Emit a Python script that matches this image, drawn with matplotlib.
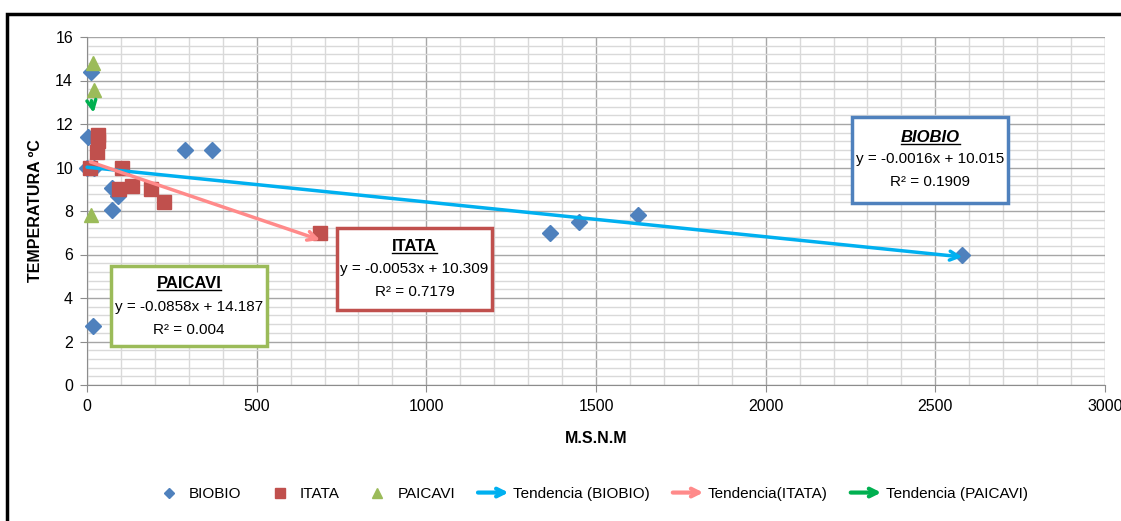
import numpy as np
import matplotlib
matplotlib.use('Agg')
import matplotlib.pyplot as plt
import matplotlib.ticker as ticker
from matplotlib.patches import Rectangle, FancyArrowPatch
from matplotlib.lines import Line2D
from matplotlib.legend_handler import HandlerBase

plt.rcParams['font.family'] = ['Liberation Sans', 'DejaVu Sans']

# data
biobio_x = [12, 3, 0, 20, 75, 90, 74, 289, 368, 1365, 1450, 1625, 2580, 18]
biobio_y = [14.4, 11.4, 10.0, 10.0, 9.05, 8.7, 8.05, 10.8, 10.8, 7.0, 7.5, 7.8, 6.0, 2.7]
itata_x = [32, 32, 30, 10, 103, 95, 133, 189, 227, 687]
itata_y = [11.5, 11.2, 10.7, 10.0, 10.0, 9.0, 9.15, 9.0, 8.4, 7.0]
paicavi_x = [17, 19.5, 13]
paicavi_y = [14.8, 13.55, 7.8]

names = ['BIOBIO', 'ITATA', 'PAICAVI']
slopes = [-0.0016, -0.0053, -0.0858]
intercepts = [10.015, 10.309, 14.187]
r2 = ['0.1909', '0.7179', '0.004']
eq_txt = ['y = -0.0016x + 10.015', 'y = -0.0053x + 10.309', 'y = -0.0858x + 14.187']
trend_labels = ['Tendencia (BIOBIO)', 'Tendencia(ITATA)', 'Tendencia (PAICAVI)']

mark_cols = ['#4F81BD', '#C0504D', '#9BBB59']
trend_cols = ['#00B0F0', '#FF8A8A', '#00B050']

fig = plt.figure(figsize=(11.21, 5.21), dpi=100)
ax = fig.add_axes([87/1121, 1-385/521, 1018/1121, 348/521])

ax.set_xlim(0, 3000)
ax.set_ylim(0, 16)
ax.xaxis.set_major_locator(ticker.MultipleLocator(500))
ax.xaxis.set_minor_locator(ticker.MultipleLocator(100))
ax.yaxis.set_major_locator(ticker.MultipleLocator(2))
ax.yaxis.set_minor_locator(ticker.MultipleLocator(0.4))
ax.grid(which='major', color='#a6a6a6', lw=1.0)
ax.grid(which='minor', color='#d9d9d9', lw=1.0)
ax.set_axisbelow(True)
for s in ['top', 'right']:
    ax.spines[s].set_visible(False)
for s in ['left', 'bottom']:
    ax.spines[s].set_color('#8c8c8c')
ax.tick_params(which='major', length=5, color='#8c8c8c', labelsize=11.5, pad=5)
ax.tick_params(which='minor', length=0)

series = [(biobio_x, biobio_y, 'D', 8), (itata_x, itata_y, 's', 10), (paicavi_x, paicavi_y, '^', 10)]
for i, (xs, ys, m, ms) in enumerate(series):
    ax.plot(xs, ys, ls='none', marker=m, ms=ms, color=mark_cols[i], mec=mark_cols[i],
            label=names[i], zorder=3, clip_on=False)

# trend lines drawn from the equations over each series' x range
trend_handles = []
for i, (xs, ys, m, ms) in enumerate(series):
    x0, x1 = min(xs), max(xs)
    y0 = slopes[i]*x0 + intercepts[i]
    y1 = slopes[i]*x1 + intercepts[i]
    ax.annotate('', xy=(x1, y1), xytext=(x0, y0),
                arrowprops=dict(arrowstyle='->', color=trend_cols[i], lw=2.5,
                                mutation_scale=16, shrinkA=0, shrinkB=0), zorder=4)
    trend_handles.append(Line2D([], [], color=trend_cols[i], label=trend_labels[i]))

ax.set_xlabel('M.S.N.M', fontsize=11.5, fontweight='bold', labelpad=12)
ax.set_ylabel('TEMPERATURA ºC', fontsize=11.5, fontweight='bold', labelpad=9)

# last x tick label sits against the right edge
fig.canvas.draw()
ax.get_xticklabels()[-1].set_horizontalalignment('right')
ax.get_xticklabels()[-1].set_x(3000)

# equation boxes (axes fraction)
boxes = [(0.7515, 0.523, 0.1532, 0.247), (0.2456, 0.2155, 0.1522, 0.2355), (0.0236, 0.112, 0.1532, 0.230)]
line_y = [(0.7126, 0.6494, 0.5833), (0.3966, 0.3333, 0.2672), (0.293, 0.224, 0.158)]
titles = []
for i in range(3):
    bx, by, bw, bh = boxes[i]
    ax.add_patch(Rectangle((bx, by), bw, bh, transform=ax.transAxes, facecolor='white',
                           edgecolor=mark_cols[i], lw=2.5, zorder=5))
    cx = bx + bw/2
    t = ax.text(cx, line_y[i][0], names[i], transform=ax.transAxes, ha='center', va='center',
                fontsize=12, fontweight='bold', style='italic' if i == 0 else 'normal', zorder=6)
    titles.append(t)
    ax.text(cx, line_y[i][1], eq_txt[i], transform=ax.transAxes, ha='center', va='center',
            fontsize=11, zorder=6)
    ax.text(cx, line_y[i][2], 'R² = ' + r2[i], transform=ax.transAxes, ha='center', va='center',
            fontsize=11, zorder=6)

# underline titles
fig.canvas.draw()
rend = fig.canvas.get_renderer()
inv = fig.transFigure.inverted()
for t in titles:
    bb = t.get_window_extent(rend)
    (xa, ya), (xb, yb) = inv.transform([(bb.x0, bb.y0 + 1), (bb.x1, bb.y0 + 1)])
    fig.add_artist(Line2D([xa, xb], [ya, ya], color='black', lw=1.0, zorder=7))


class ArrowHandler(HandlerBase):
    def create_artists(self, legend, orig_handle, xdescent, ydescent, width, height, fontsize, trans):
        yc = height/2 - ydescent
        arr = FancyArrowPatch((-xdescent, yc), (width - xdescent, yc), arrowstyle='->',
                              mutation_scale=14, color=orig_handle.get_color(), lw=3,
                              shrinkA=0, shrinkB=0, transform=trans)
        return [arr]


leg_handles = [Line2D([], [], ls='none', marker=m, ms=ms*0.7, color=mark_cols[i], label=names[i])
               for i, (xs, ys, m, ms) in enumerate(series)]
hmap = {h: ArrowHandler() for h in trend_handles}
fig.legend(handles=leg_handles + trend_handles, loc='center', bbox_to_anchor=(0.527, 0.052),
           ncol=6, frameon=False, fontsize=11, handler_map=hmap, handlelength=2.0,
           columnspacing=1.5, handletextpad=0.3)

# outer chart frame
fig.add_artist(Rectangle((7/1121, -0.2), 1.2, 1.2 - 14/521, transform=fig.transFigure,
                         fill=False, edgecolor='black', lw=2.5))

fig.savefig('out.png', dpi=100)
